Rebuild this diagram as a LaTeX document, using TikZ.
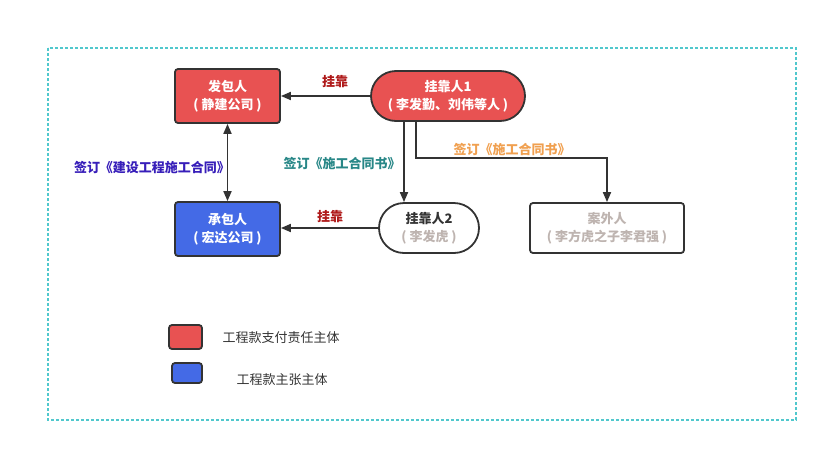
\documentclass[tikz,border=0pt]{standalone}
\usepackage{fontspec}
\setmainfont{Noto Sans CJK SC}
\usetikzlibrary{arrows.meta}
\definecolor{boxred}{RGB}{232,82,82}
\definecolor{boxblue}{RGB}{68,106,230}
\definecolor{edge}{RGB}{51,51,51}
\definecolor{lblred}{RGB}{175,25,25}
\definecolor{lblpurple}{RGB}{55,30,185}
\definecolor{lblteal}{RGB}{40,135,135}
\definecolor{lblorange}{RGB}{240,160,80}
\definecolor{softgray}{RGB}{190,180,176}
\definecolor{frame}{RGB}{80,200,205}
\tikzset{
  every node/.style={font=\fontsize{13}{16}\selectfont},
  redbox/.style={draw=edge,line width=1.8pt,fill=boxred,rounded corners=3pt,minimum width=105pt,minimum height=54pt,align=center,text=white,font=\fontsize{13}{18}\selectfont\bfseries},
  bluebox/.style={redbox,fill=boxblue},
  pill/.style={draw=edge,line width=1.8pt,rounded corners=25pt,minimum height=50pt,align=center,font=\fontsize{13}{18}\selectfont\bfseries},
  plainbox/.style={draw=edge,line width=1.8pt,rounded corners=3pt,minimum width=154pt,minimum height=50pt,align=center,text=softgray,font=\fontsize{13}{18}\selectfont\bfseries},
  conn/.style={draw=edge,line width=1.8pt,-{Triangle[length=10pt,width=8pt]}},
  lbl/.style={font=\fontsize{13}{16}\selectfont\bfseries},
  legend/.style={draw=edge,line width=1.8pt,rounded corners=3pt},
}
\begin{document}
\begin{tikzpicture}[x=1pt,y=-1pt]
\useasboundingbox (0,0) rectangle (828,453);
\draw[frame,line width=1.5pt,dash pattern=on 3pt off 2pt] (48,48) rectangle (796,420);

\node[redbox] (fa) at (227.5,96) {发包人\\( 静建公司 )};
\node[redbox,fill=boxred,minimum width=154pt,minimum height=50pt,rounded corners=25pt] (g1) at (448,96) {挂靠人1\\( 李发勤、刘伟等人 )};
\node[bluebox] (cheng) at (227.5,229) {承包人\\( 宏达公司 )};
\node[pill,minimum width=100pt,text=edge] (g2) at (429,228) {挂靠人2\\\textcolor{softgray}{( 李发虎 )}};
\node[plainbox] (an) at (607,228) {案外人\\( 李方虎之子李君强 )};

\coordinate (g1a) at (404,121);
\coordinate (g1b) at (416,121);
\coordinate (bend) at (416,158);
\coordinate (bend2) at (607,158);

\draw[conn] (g1.west) -- (fa.east);
\draw[conn,{Triangle[length=10pt,width=8pt]}-{Triangle[length=10pt,width=8pt]}] (fa.south) -- (cheng.north);
\draw[conn] (g1a) -- (g1a |- g2.north);
\draw[conn] (g1b) -- (bend) -- (bend2) -- (an.north);
\draw[conn] (g2.west) -- (g2.west -| cheng.east);

\node[lbl,text=lblred] (l1) at (335,82) {挂靠};
\node[lbl,text=lblred] (l2) at (330,217) {挂靠};
\node[lbl,text=lblpurple] (l3) at (152,167) {签订《建设工程施工合同》};
\node[lbl,text=lblteal] (l4) at (342,163) {签订《施工合同书》};
\node[lbl,text=lblorange] (l5) at (512,149) {签订《施工合同书》};

\node[legend,fill=boxred,minimum width=33pt,minimum height=24pt] (k1) at (185.5,337) {};
\node[legend,fill=boxblue,minimum width=30pt,minimum height=20pt] (k2) at (187,373) {};
\node[text=edge] (t1) at (281,338) {工程款支付责任主体};
\node[text=edge] (t2) at (282,380) {工程款主张主体};
\end{tikzpicture}
\end{document}
